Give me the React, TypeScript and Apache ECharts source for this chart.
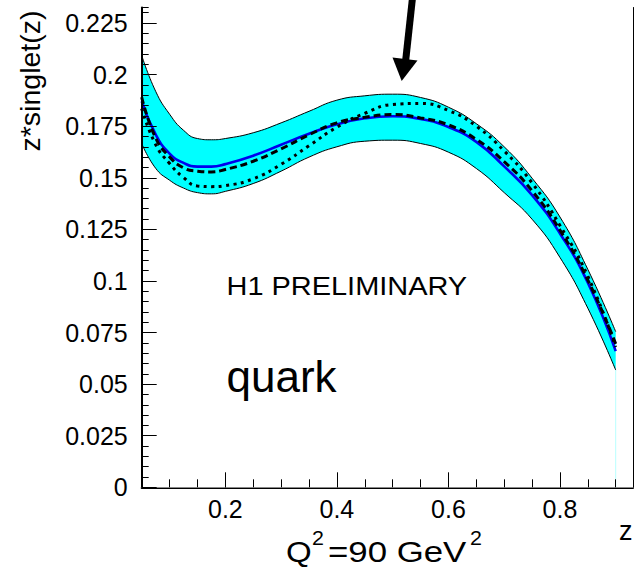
import React, { useEffect, useRef } from "react";
import * as echarts from "echarts";

// z grid
const zVals = [0.05, 0.075, 0.1, 0.125, 0.15, 0.175, 0.2, 0.25, 0.3, 0.35, 0.4, 0.45, 0.5, 0.55, 0.6, 0.65, 0.7, 0.75, 0.8, 0.85, 0.9];
// error band
const upperBand = [0.2093, 0.1919, 0.1808, 0.173, 0.169, 0.1684, 0.169, 0.1718, 0.1766, 0.1822, 0.1876, 0.1897, 0.1905, 0.1889, 0.1842, 0.1762, 0.165, 0.1498, 0.131, 0.1056, 0.0754];
const lowerBand = [0.1666, 0.1546, 0.1488, 0.145, 0.1428, 0.1422, 0.1434, 0.1472, 0.1532, 0.16, 0.165, 0.1677, 0.1682, 0.1666, 0.1624, 0.1545, 0.1428, 0.1299, 0.1114, 0.0868, 0.0568];
// central fit (blue)
const centralFit = [0.187, 0.171, 0.1617, 0.1572, 0.1554, 0.1554, 0.1566, 0.1607, 0.166, 0.1713, 0.1759, 0.1788, 0.1798, 0.1785, 0.1746, 0.1674, 0.1555, 0.1416, 0.123, 0.0991, 0.066];
// dashed curve
const dashedFit = [0.189, 0.1693, 0.1601, 0.1548, 0.1532, 0.1528, 0.154, 0.158, 0.164, 0.1708, 0.1766, 0.1793, 0.1806, 0.179, 0.1756, 0.1686, 0.1578, 0.1437, 0.1246, 0.1004, 0.0695];
// dotted curve
const dottedFit = [0.1835, 0.1661, 0.1569, 0.1501, 0.146, 0.1457, 0.1462, 0.1495, 0.1565, 0.1655, 0.1745, 0.1812, 0.1855, 0.186, 0.1826, 0.175, 0.163, 0.1475, 0.1269, 0.1023, 0.068];

const xMin = 0.05;
const xMax = 0.931;
const yMin = 0;
const yMax = 0.2325;

const FONT = "'Liberation Sans', Arial, Helvetica, sans-serif";

export default function App() {
  const ref = useRef<HTMLDivElement>(null);
  useEffect(() => {
    if (!ref.current) return;
    const chart = echarts.init(ref.current, null, { renderer: "svg" });
    const pts = (arr: number[]) => zVals.map((z, i) => [z, arr[i]]);
    const last = zVals.length - 1;
    const option: any = {
      animation: false,
      backgroundColor: "#ffffff",
      grid: { left: 141.7, right: 2, top: 7.5, bottom: 84.7, containLabel: false },
      xAxis: [
        {
          type: "value", min: xMin, max: xMax, position: "bottom", z: 10,
          axisLine: { show: true, lineStyle: { color: "#000", width: 2 } },
          axisTick: { show: true, inside: true, length: 15, lineStyle: { color: "#000", width: 1 } },
          axisLabel: { show: true, showMinLabel: false, showMaxLabel: false, fontSize: 25, color: "#000", fontFamily: FONT, margin: 22, verticalAlign: "middle" },
          splitLine: { show: false },
        },
        {
          type: "value", min: xMin, max: xMax, interval: 0.05, position: "bottom", z: 10,
          axisLine: { show: false },
          axisTick: { show: true, inside: true, length: 8, lineStyle: { color: "#000", width: 1 } },
          axisLabel: { show: false },
          splitLine: { show: false },
        },
        {
          type: "value", min: xMin, max: xMax, position: "top", z: 10,
          axisLine: { show: true, lineStyle: { color: "#888", width: 1 } },
          axisTick: { show: false }, axisLabel: { show: false }, splitLine: { show: false },
        },
      ],
      yAxis: [
        {
          type: "value", min: yMin, max: yMax, interval: 0.025, position: "left", z: 10,
          axisLine: { show: true, lineStyle: { color: "#000", width: 2 } },
          axisTick: { show: true, inside: true, length: 15, lineStyle: { color: "#000", width: 1 } },
          axisLabel: { show: true, showMaxLabel: false, fontSize: 25, color: "#000", fontFamily: FONT, margin: 14, padding: [4, 0, 0, 0] },
          splitLine: { show: false },
        },
        {
          type: "value", min: yMin, max: yMax, interval: 0.005, position: "left", z: 10,
          axisLine: { show: false },
          axisTick: { show: true, inside: true, length: 7, lineStyle: { color: "#000", width: 1 } },
          axisLabel: { show: false }, splitLine: { show: false },
        },
        {
          type: "value", min: yMin, max: yMax, position: "right", z: 10,
          axisLine: { show: true, lineStyle: { color: "#000", width: 1 } },
          axisTick: { show: false }, axisLabel: { show: false }, splitLine: { show: false },
        },
      ],
      series: [
        {
          name: "upper", type: "line", data: pts(upperBand), smooth: true,
          symbol: "none", lineStyle: { color: "#000", width: 1 },
          areaStyle: { color: "#00ffff", opacity: 1, origin: "start" }, z: 2, silent: true,
        },
        {
          name: "lower", type: "line", data: pts(lowerBand), smooth: true,
          symbol: "none", lineStyle: { color: "#000", width: 1 },
          areaStyle: { color: "#ffffff", opacity: 1, origin: "start" }, z: 2, silent: true,
        },
        {
          type: "line", data: [[zVals[last], 0], [zVals[last], lowerBand[last]]],
          symbol: "none", lineStyle: { color: "#c4ffff", width: 1 }, z: 3, silent: true,
        },
        {
          name: "central", type: "line", data: pts(centralFit), smooth: true,
          symbol: "none", lineStyle: { color: "#0000ee", width: 2.6 }, z: 4, silent: true,
        },
        {
          name: "dashed", type: "line", data: pts(dashedFit), smooth: true,
          symbol: "none", lineStyle: { color: "#000", width: 3, type: [7, 4] }, z: 5, silent: true,
        },
        {
          name: "dotted", type: "line", data: pts(dottedFit), smooth: true,
          symbol: "none", lineStyle: { color: "#000", width: 3, type: [3, 4.5] }, z: 6, silent: true,
        },
      ],
      graphic: [
        {
          type: "text", x: 30, y: 81, rotation: Math.PI / 2, z: 100,
          style: { text: "z*singlet(z)", font: `28.5px ${FONT}`, fill: "#000", align: "center", verticalAlign: "middle" },
        },
        {
          type: "text", x: 226.5, y: 286.2, scaleX: 1.135, z: 100,
          style: { text: "H1 PRELIMINARY", font: `25.5px ${FONT}`, fill: "#000", align: "left", verticalAlign: "middle" },
        },
        {
          type: "text", x: 226.5, y: 376.5, z: 100,
          style: { text: "quark", font: `44px ${FONT}`, fill: "#000", align: "left", verticalAlign: "middle" },
        },
        {
          type: "text", x: 619, y: 530.6, z: 100,
          style: { text: "z", font: `27px ${FONT}`, fill: "#000", align: "left", verticalAlign: "middle" },
        },
        {
          type: "text", x: 286, y: 551.6, scaleX: 1.1, z: 100,
          style: { text: "Q", font: `30px ${FONT}`, fill: "#000", align: "left", verticalAlign: "middle" },
        },
        {
          type: "text", x: 312, y: 537.5, scaleX: 1.1, z: 100,
          style: { text: "2", font: `19.5px ${FONT}`, fill: "#000", align: "left", verticalAlign: "middle" },
        },
        {
          type: "text", x: 328, y: 551.6, scaleX: 1.2, z: 100,
          style: { text: "=90 GeV", font: `29px ${FONT}`, fill: "#000", align: "left", verticalAlign: "middle" },
        },
        {
          type: "text", x: 470, y: 537.5, scaleX: 1.1, z: 100,
          style: { text: "2", font: `19.5px ${FONT}`, fill: "#000", align: "left", verticalAlign: "middle" },
        },
        {
          type: "line", shape: { x1: 412.8, y1: -5, x2: 405.5, y2: 62 }, z: 100,
          style: { stroke: "#000", lineWidth: 7 },
        },
        {
          type: "polygon", shape: { points: [[392.5, 57.5], [417.5, 60.5], [401.7, 81]] }, z: 100,
          style: { fill: "#000" },
        },
      ],
    };
    chart.setOption(option);
    return () => chart.dispose();
  }, []);
  return (
    <div
      ref={ref}
      style={{ position: "fixed", left: 0, top: 0, width: 635, height: 572, background: "#fff" }}
    />
  );
}
